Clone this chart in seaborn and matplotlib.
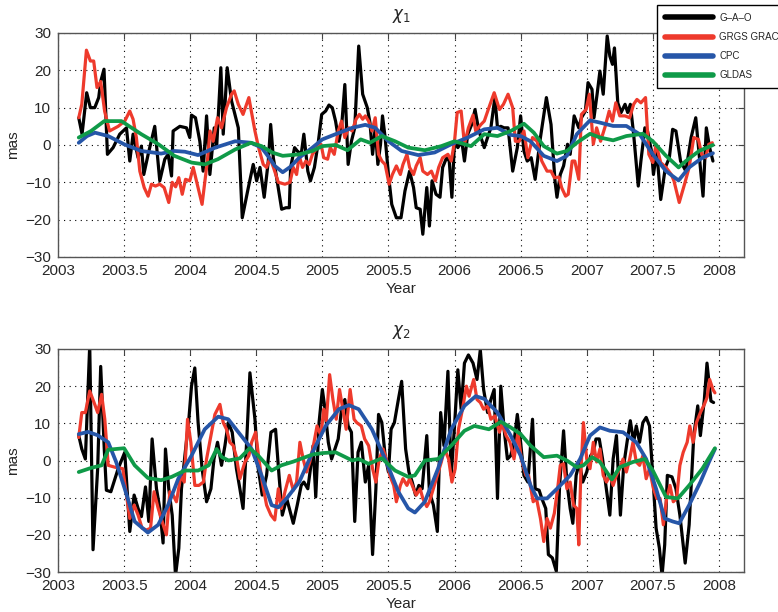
import numpy as np
import pandas as pd
import matplotlib
matplotlib.use("Agg")
import matplotlib.pyplot as plt
import seaborn as sns

# ---------------- chi_1 ----------------
t_gao_1 = [2003.157, 2003.182, 2003.217, 2003.245, 2003.278, 2003.308, 2003.323, 2003.348, 2003.374, 2003.417,
           2003.467, 2003.518, 2003.543, 2003.568, 2003.606, 2003.631, 2003.649, 2003.682, 2003.732, 2003.77,
           2003.808, 2003.833, 2003.859, 2003.871, 2003.922, 2003.972, 2003.997, 2004.01, 2004.04, 2004.073,
           2004.098, 2004.124, 2004.149, 2004.182, 2004.2, 2004.232, 2004.25, 2004.28, 2004.313, 2004.333,
           2004.364, 2004.394, 2004.44, 2004.477, 2004.503, 2004.528, 2004.56, 2004.591, 2004.609, 2004.629,
           2004.654, 2004.692, 2004.725, 2004.75, 2004.76, 2004.79, 2004.81, 2004.84, 2004.86, 2004.89,
           2004.91, 2004.94, 2004.97, 2004.995, 2005.025, 2005.05, 2005.075, 2005.1, 2005.125, 2005.145,
           2005.17, 2005.195, 2005.22, 2005.245, 2005.275, 2005.305, 2005.34, 2005.36, 2005.38, 2005.4,
           2005.42, 2005.44, 2005.455, 2005.475, 2005.5, 2005.525, 2005.56, 2005.595, 2005.625, 2005.66,
           2005.69, 2005.71, 2005.74, 2005.76, 2005.79, 2005.81, 2005.83, 2005.86, 2005.89, 2005.91,
           2005.94, 2005.96, 2005.98, 2006.0, 2006.025, 2006.055, 2006.075, 2006.1, 2006.13, 2006.155,
           2006.18, 2006.2, 2006.225, 2006.25, 2006.275, 2006.305, 2006.325, 2006.35, 2006.375, 2006.405,
           2006.44, 2006.475, 2006.5, 2006.525, 2006.55, 2006.58, 2006.61, 2006.65, 2006.695, 2006.73,
           2006.76, 2006.775, 2006.8, 2006.825, 2006.855, 2006.875, 2006.905, 2006.94, 2006.96, 2006.99,
           2007.01, 2007.04, 2007.055, 2007.08, 2007.1, 2007.125, 2007.155, 2007.175, 2007.195, 2007.21,
           2007.235, 2007.26, 2007.29, 2007.31, 2007.33, 2007.355, 2007.39, 2007.41, 2007.44, 2007.46,
           2007.49, 2007.505, 2007.53, 2007.56, 2007.595, 2007.625, 2007.65, 2007.675, 2007.71, 2007.75,
           2007.79, 2007.825, 2007.855, 2007.88, 2007.905, 2007.93, 2007.955]
gao_1 = [7.3, 2.9, 14, 10, 10, 12.7, 17, 20.3, -2.5, -0.7,
         2.9, 4.6, -4.3, 2.9, -3.4, -0.3, -7.9, -2.5, 5, -9.6,
         -3.8, -2.5, -8.3, 3.75, 5, 4.6, 2, 8, 7.3, 1,
         -7, 7.8, -7.9, 4.6, -0.7, 20.7, 2.9, 20.7, 11.8, 9,
         4.6, -19.5, -11.4, -5.2, -9.6, -6, -14, -4.3, 5.5, -3.4,
         -8.75, -17.2, -16.8, -16.8, -6, -0.7, -1.6, -2.5, 2.9, -7,
         -9.6, -6, 1, 8.2, 9.1, 10.7, 10, 6.4, 1, 4.6,
         16.2, -5.2, 1, 4.6, 26.5, 13.6, 10, 6, -2.5, 4.6,
         -5.2, 0.2, 7.8, 2, -7.9, -15.9, -19.5, -19.5, -12.3, -7,
         -11.4, -16.8, -17.2, -23.9, -11.4, -21.7, -9.6, -13.2, -14, -6,
         -3.4, -4.3, -14, 1, -0.7, 1, -4.3, 2.9, 5.5, 9.5,
         4.6, 2, -0.7, 2, 4.6, 12.7, 4.6, 5, 4.6, 4.6,
         -7, -0.7, 7.8, -1.6, -4.3, -3.4, -9.2, 2, 12.7, 5.5,
         -9.6, -14, -7.9, -5.6, 0.2, -2.5, 7.8, 4.6, 7.3, 9.1,
         16.7, 14.9, 7.3, 14, 19.8, 13.6, 29.2, 23.8, 21.6, 26,
         11.3, 8.7, 10.9, 8.7, 10.9, 2.9, -11, -4.3, 4.6, 3.75,
         -1.6, -7.9, -1.6, -14.6, -6, -3.4, 4.2, 3.75, -4.3, -7,
         2, 7.3, -4.3, -13.7, 4.6, -0.7, -4.3]

t_grgs_1 = [2003.157, 2003.18, 2003.215, 2003.245, 2003.27, 2003.295, 2003.323, 2003.353, 2003.39, 2003.455,
            2003.505, 2003.543, 2003.568, 2003.593, 2003.619, 2003.652, 2003.682, 2003.707, 2003.737, 2003.77,
            2003.803, 2003.838, 2003.864, 2003.89, 2003.914, 2003.94, 2003.965, 2003.997, 2004.023, 2004.06,
            2004.09, 2004.13, 2004.15, 2004.174, 2004.207, 2004.237, 2004.275, 2004.313, 2004.333, 2004.364,
            2004.4, 2004.444, 2004.49, 2004.515, 2004.553, 2004.578, 2004.604, 2004.63, 2004.667, 2004.717,
            2004.755, 2004.78, 2004.805, 2004.825, 2004.85, 2004.875, 2004.9, 2004.925, 2004.96, 2004.99,
            2005.01, 2005.04, 2005.06, 2005.09, 2005.12, 2005.145, 2005.17, 2005.2, 2005.225, 2005.255,
            2005.28, 2005.305, 2005.325, 2005.35, 2005.375, 2005.4, 2005.425, 2005.45, 2005.475, 2005.505,
            2005.53, 2005.56, 2005.59, 2005.61, 2005.64, 2005.66, 2005.69, 2005.71, 2005.74, 2005.76,
            2005.795, 2005.825, 2005.855, 2005.88, 2005.91, 2005.95, 2005.975, 2006.0, 2006.02, 2006.05,
            2006.075, 2006.105, 2006.14, 2006.16, 2006.2, 2006.225, 2006.26, 2006.3, 2006.34, 2006.37,
            2006.405, 2006.44, 2006.46, 2006.49, 2006.525, 2006.555, 2006.59, 2006.625, 2006.66, 2006.7,
            2006.73, 2006.755, 2006.79, 2006.81, 2006.84, 2006.86, 2006.89, 2006.91, 2006.94, 2006.96,
            2006.995, 2007.02, 2007.05, 2007.075, 2007.105, 2007.14, 2007.17, 2007.195, 2007.22, 2007.25,
            2007.29, 2007.325, 2007.355, 2007.38, 2007.41, 2007.445, 2007.47, 2007.5, 2007.525, 2007.56,
            2007.6, 2007.64, 2007.66, 2007.7, 2007.74, 2007.775, 2007.81, 2007.845, 2007.87, 2007.9,
            2007.925, 2007.95]
grgs_1 = [7.3, 10.9, 25.4, 22.5, 22.5, 15.4, 17, 9, 3.75, 5,
          6.4, 9.1, 6.9, 2, -7, -11.4, -13.7, -10.5, -11, -10.5,
          -11.4, -15.4, -10, -11.2, -8.75, -13.2, -9.2, -9.6, -6, -11.4,
          -15.9, -4.3, 3.75, 1, 7.3, 4.6, 10, 13.6, 14.5, 10.9,
          8.2, 12.7, 3.75, -0.3, -5.2, -6, -3.4, -6, -10, -10.5,
          -10, -6, -7.9, -2.9, -6, -4.3, -5.2, -2.5, -0.7, 0.2,
          -3.4, -3.8, -0.7, -2.5, 3.75, 6.4, 2, 4.6, 3.75, 6.9,
          8.2, 6.9, 7.8, 6.4, 3.75, 7.3, -2.5, -4.3, -5.2, -10.5,
          -7.9, -5.6, -7.9, -5.2, -2.5, -6, -7.9, -5.6, -3.4, -7,
          -7.9, -7, -9.6, -6, -3.4, -2.5, -4.3, 1, 8.7, 9.1,
          0.2, 4.6, 8, 3.75, 5.5, 6.4, 10, 14, 9.5, 10.9,
          13.6, 10, 1, 1, 3.75, -3.4, 2, 1, -4.3, -7,
          -7, -8.75, -8.6, -11.4, -13.7, -13.2, -4.3, -4.3, -9.2, 8.2,
          9.5, 13.6, 0.2, 4.6, 1, 5, 9.1, 6.4, 11.3, 7.8,
          7.8, 7.3, 10.9, 12.2, 11.3, 12.7, -2.5, -4.7, 0.2, -4.7,
          -6, -7.9, -9.6, -15.4, -10.5, -6, 2, 1.5, -2.5, -3.4,
          0.2, 0.6]

t_cpc_1 = [2003.157, 2003.22, 2003.28, 2003.38, 2003.5, 2003.63, 2003.78, 2003.88, 2003.96, 2004.06,
           2004.19, 2004.34, 2004.46, 2004.54, 2004.6, 2004.64, 2004.7, 2004.76, 2004.825, 2004.925,
           2005.0, 2005.1, 2005.225, 2005.325, 2005.4, 2005.5, 2005.6, 2005.725, 2005.85, 2005.975,
           2006.1, 2006.225, 2006.325, 2006.425, 2006.5, 2006.575, 2006.675, 2006.775, 2006.85, 2006.925,
           2007.025, 2007.1, 2007.2, 2007.3, 2007.4, 2007.5, 2007.6, 2007.695, 2007.775, 2007.875,
           2007.955]
cpc_1 = [0.6, 2.4, 3.3, 2.4, 0.2, -1.6, -2.3, -1.6, -1.8, -2.7,
         -0.7, 1, 0.6, -0.7, -3.5, -5.6, -7.3, -5.8, -3.4, -0.7,
         1.5, 2.9, 4.6, 5.4, 4.6, 1, -1.6, -2.7, -2, 0.2,
         2, 4.2, 4.6, 2.7, 2.4, 1, -2.9, -4.3, -2.9, 2.9,
         6.6, 6, 5.1, 5.1, 2.9, -2.5, -7, -9.5, -6, -3.4,
         -2.2]

t_gldas_1 = [2003.157, 2003.25, 2003.35, 2003.48, 2003.54, 2003.63, 2003.76, 2003.88, 2004.01, 2004.11,
             2004.21, 2004.34, 2004.46, 2004.54, 2004.62, 2004.7, 2004.825, 2004.925, 2005.0, 2005.1,
             2005.19, 2005.29, 2005.36, 2005.45, 2005.55, 2005.65, 2005.775, 2005.9, 2006.0, 2006.125,
             2006.225, 2006.325, 2006.425, 2006.525, 2006.6, 2006.675, 2006.775, 2006.85, 2006.925, 2007.025,
             2007.1, 2007.2, 2007.3, 2007.425, 2007.5, 2007.6, 2007.695, 2007.75, 2007.85, 2007.955]
gldas_1 = [2, 3.75, 6.4, 6.4, 5, 2.9, 0.2, -2.9, -4.7, -5.2,
           -3.8, -1.2, 0.6, -0.3, -2, -2.9, -2.5, -1.6, -0.3, 0,
           -1.4, 1.5, 0.6, 2.4, 1, -0.7, -1.4, -0.3, 1, -0.3,
           2.9, 2.4, 3.75, 5.7, 3.3, -0.3, -2.3, -1.6, 0.6, 3,
           2, 1.25, 2.4, 3, 1, -2.9, -6, -4.3, -1.6, 0]

# ---------------- chi_2 ----------------
t_gao_2 = [2003.157, 2003.18, 2003.207, 2003.24, 2003.265, 2003.3, 2003.323, 2003.35, 2003.366, 2003.4,
           2003.455, 2003.505, 2003.543, 2003.576, 2003.606, 2003.631, 2003.662, 2003.687, 2003.712, 2003.745,
           2003.77, 2003.795, 2003.813, 2003.838, 2003.864, 2003.889, 2003.914, 2003.934, 2003.96, 2003.99,
           2004.01, 2004.035, 2004.06, 2004.09, 2004.124, 2004.157, 2004.18, 2004.207, 2004.237, 2004.263,
           2004.288, 2004.318, 2004.35, 2004.376, 2004.4, 2004.427, 2004.452, 2004.49, 2004.515, 2004.545,
           2004.578, 2004.611, 2004.646, 2004.672, 2004.697, 2004.73, 2004.75, 2004.78, 2004.81, 2004.84,
           2004.86, 2004.89, 2004.91, 2004.93, 2004.95, 2004.975, 2005.0, 2005.02, 2005.045, 2005.07,
           2005.095, 2005.12, 2005.145, 2005.17, 2005.195, 2005.22, 2005.245, 2005.27, 2005.295, 2005.325,
           2005.35, 2005.38, 2005.405, 2005.425, 2005.45, 2005.475, 2005.5, 2005.52, 2005.545, 2005.575,
           2005.6, 2005.63, 2005.655, 2005.68, 2005.705, 2005.73, 2005.755, 2005.79, 2005.81, 2005.84,
           2005.87, 2005.895, 2005.92, 2005.95, 2005.975, 2006.0, 2006.025, 2006.05, 2006.075, 2006.105,
           2006.14, 2006.17, 2006.195, 2006.22, 2006.25, 2006.275, 2006.3, 2006.325, 2006.35, 2006.375,
           2006.4, 2006.425, 2006.45, 2006.475, 2006.5, 2006.525, 2006.555, 2006.59, 2006.61, 2006.64,
           2006.66, 2006.69, 2006.71, 2006.74, 2006.77, 2006.795, 2006.825, 2006.85, 2006.875, 2006.895,
           2006.92, 2006.945, 2006.97, 2007.0, 2007.03, 2007.05, 2007.07, 2007.095, 2007.12, 2007.145,
           2007.175, 2007.2, 2007.225, 2007.255, 2007.28, 2007.305, 2007.33, 2007.355, 2007.375, 2007.4,
           2007.425, 2007.45, 2007.475, 2007.5, 2007.525, 2007.55, 2007.57, 2007.59, 2007.61, 2007.645,
           2007.675, 2007.705, 2007.745, 2007.775, 2007.81, 2007.84, 2007.86, 2007.89, 2007.91, 2007.94,
           2007.96]
gao_2 = [6.7, 3.1, 0.4, 31, -24, -2.2, 25.3, 3.1, -8, -8.4,
         -2.2, 2.2, -19.1, -9.3, -12.9, -15.1, -7.1, -16.4, 5.8, -7.6,
         -12.9, -22.2, 3.1, -7.6, -14.7, -31, -23.6, -7.6, 1.3, 11.1,
         20, 24.9, 10.2, -2.2, -11.1, -7.6, 0.4, 4.9, -1.3, 4,
         10.2, 7.6, -2.2, -7.6, -12.9, 4.9, 23.6, 11.1, -2.2, -9.3,
         -4, 7.6, 8.4, -4, -14.7, -10.2, -12.9, -16.9, -12, -6.7,
         -5.8, -7.6, -2.2, 4, -9.8, 10.2, 19.1, 13.8, 4.9, 0.4,
         3.1, 5.8, 13.8, 16.4, 9.3, 7.6, -16.4, 2.2, 4.9, -5.8,
         -1.3, -25.3, -7.6, 12.4, 10.2, 1.3, -3.1, 8.4, 10.2, 16.4,
         21.3, 3.1, -3.1, -5.8, -9.3, -6.7, -7.6, 6.7, -8.4, -12,
         -19.1, 12.9, 4, 24, -4, 9.3, 24.4, 13.8, 26.2, 28.4,
         26.2, 21.8, 29.8, 19.1, 12.9, 16.4, 19.1, -10.2, 20, 8.4,
         0.4, 1.3, 4.9, 12.4, 4.9, -4, -5.8, 11.1, -7.6, -8,
         -10.2, -12.9, -25.3, -26.2, -29.8, -6.7, 8, -5.8, -12.9, -16.9,
         -4, -0.4, -5.8, -3.1, 1.3, 2.2, 5.8, 5.8, 0.4, -6.7,
         -14.7, 0.4, 6.7, -14.7, -1.3, 4.9, 10.7, 4.9, 9.3, 4.9,
         10.2, 11.6, 9.3, -4, -18.2, -23.6, -31, -22.7, -4, -4.4,
         -7.6, -14.7, -27.6, -17.3, 6.7, 14.7, 6.7, 16.4, 26.2, 16,
         15.6]

t_grgs_2 = [2003.157, 2003.18, 2003.207, 2003.24, 2003.278, 2003.3, 2003.33, 2003.354, 2003.38, 2003.43,
            2003.49, 2003.518, 2003.543, 2003.576, 2003.606, 2003.636, 2003.67, 2003.7, 2003.727, 2003.758,
            2003.788, 2003.82, 2003.846, 2003.871, 2003.896, 2003.93, 2003.955, 2003.98, 2004.005, 2004.035,
            2004.066, 2004.1, 2004.124, 2004.157, 2004.187, 2004.225, 2004.25, 2004.275, 2004.3, 2004.326,
            2004.35, 2004.376, 2004.414, 2004.444, 2004.465, 2004.495, 2004.52, 2004.545, 2004.578, 2004.611,
            2004.64, 2004.667, 2004.69, 2004.717, 2004.75, 2004.78, 2004.805, 2004.83, 2004.855, 2004.88,
            2004.905, 2004.93, 2004.96, 2004.99, 2005.01, 2005.03, 2005.055, 2005.08, 2005.105, 2005.13,
            2005.155, 2005.18, 2005.21, 2005.24, 2005.26, 2005.295, 2005.32, 2005.35, 2005.38, 2005.405,
            2005.43, 2005.46, 2005.49, 2005.51, 2005.54, 2005.56, 2005.59, 2005.61, 2005.64, 2005.66,
            2005.69, 2005.71, 2005.74, 2005.76, 2005.79, 2005.81, 2005.84, 2005.87, 2005.9, 2005.925,
            2005.955, 2005.98, 2006.005, 2006.03, 2006.06, 2006.09, 2006.11, 2006.145, 2006.17, 2006.195,
            2006.22, 2006.25, 2006.275, 2006.305, 2006.34, 2006.36, 2006.39, 2006.42, 2006.45, 2006.48,
            2006.505, 2006.54, 2006.56, 2006.595, 2006.62, 2006.65, 2006.675, 2006.7, 2006.725, 2006.755,
            2006.78, 2006.8, 2006.825, 2006.85, 2006.875, 2006.9, 2006.925, 2006.94, 2006.955, 2006.975,
            2007.0, 2007.025, 2007.05, 2007.075, 2007.1, 2007.125, 2007.15, 2007.175, 2007.2, 2007.225,
            2007.25, 2007.275, 2007.3, 2007.325, 2007.35, 2007.375, 2007.4, 2007.425, 2007.45, 2007.475,
            2007.505, 2007.53, 2007.555, 2007.58, 2007.605, 2007.63, 2007.655, 2007.68, 2007.705, 2007.73,
            2007.76, 2007.78, 2007.805, 2007.83, 2007.86, 2007.89, 2007.91, 2007.93, 2007.955, 2007.97]
grgs_2 = [6.2, 12.9, 12.9, 18.7, 15.1, 12.9, 17.8, 11.1, -1.3, -1.8,
          -2.2, -9.3, -15.6, -12, -14.7, -18.2, -18.7, -18.2, -8.4, -12.9,
          -16.4, -20, -8.4, -9.3, -11.1, -4, -5.8, 11.1, 4.9, -6.7,
          -6.7, -5.8, 0.4, 6.7, 12.4, 15.1, 10.2, 8.4, 4.9, 4,
          0.9, -4.9, -0.4, 1.3, 4.9, 7.6, 0.4, -5.8, -12, -14.7,
          -16, -7.6, -12.9, -8.4, -4, -8, -5.8, 4.9, 0.4, -3.1,
          -0.4, 3.6, 9.3, 6.7, 13.8, 10.7, 23.1, 16.4, 11.1, 19.1,
          13.8, 8.4, 19.1, 11.1, 10.2, 9.3, 5.8, 4, -2.2, -5.8,
          0.4, 3.1, -0.4, -4, -6.7, -11.1, -6.7, -4.9, -6.7, -4.9,
          -7.6, -9.3, -7.6, -10.2, -12.4, -11.1, -7.6, -4, -0.4, 3.1,
          0.4, -5.8, -2.2, 8.4, 13.8, 20, 17.3, 21.8, 16.4, 15.6,
          13.8, 14.7, 11.1, 12, 7.6, 10.2, 6.7, 4.9, 0.4, 7.6,
          0.4, -4, -4, -11.1, -10.2, -15.6, -21.8, -15.6, -18.2, -14.2,
          -7.6, -1.3, -0.9, -7.6, -5.8, -12, -12.9, -22.7, -4, 10.2,
          0.4, -2.2, 4.9, -0.4, 3.1, -4, -5.8, -4, -6.7, -4,
          -2.2, 0.4, -3.1, 0.4, 4.9, -0.4, -1.3, 1.3, -4.9, -2.2,
          -7.6, -10.2, -10.2, -17.3, -10.2, -6.7, -11.1, -10.2, -1.3, 2.2,
          4.9, 9.3, 4.9, 10.2, 12.9, 15.1, 16.9, 21.8, 19.1, 18.2]

t_cpc_2 = [2003.157, 2003.227, 2003.3, 2003.38, 2003.44, 2003.505, 2003.58, 2003.68, 2003.758, 2003.833,
           2003.91, 2004.01, 2004.11, 2004.212, 2004.288, 2004.376, 2004.465, 2004.54, 2004.616, 2004.667,
           2004.73, 2004.825, 2004.925, 2005.025, 2005.125, 2005.2, 2005.275, 2005.375, 2005.475, 2005.575,
           2005.65, 2005.7, 2005.775, 2005.875, 2005.975, 2006.075, 2006.16, 2006.225, 2006.325, 2006.425,
           2006.5, 2006.575, 2006.625, 2006.7, 2006.775, 2006.875, 2006.95, 2007.025, 2007.1, 2007.175,
           2007.275, 2007.375, 2007.45, 2007.525, 2007.59, 2007.65, 2007.7, 2007.775, 2007.86, 2007.925,
           2007.97]
cpc_2 = [7.1, 7.7, 6.8, 4.9, -0.4, -7.6, -16.4, -19.4, -17.3, -12,
         -4.9, 1.3, 8.4, 11.8, 11.1, 7.1, 3.1, -4, -12, -12.6,
         -10.2, -5.8, 2.2, 9.3, 13.8, 14.9, 13.8, 8.4, 0.4, -8.4,
         -12.9, -14, -11.1, -2.2, 8.4, 14.7, 17.3, 16.6, 12.9, 6.7,
         1.3, -6.7, -10.2, -10.2, -7.6, -4, 0.4, 6.7, 8.9, 8,
         7.6, 4.9, 0.4, -7.6, -15.6, -16.4, -16.9, -12, -5.8, -0.4,
         3.1]

t_gldas_2 = [2003.157, 2003.25, 2003.33, 2003.38, 2003.5, 2003.58, 2003.68, 2003.78, 2003.86, 2003.96,
             2004.06, 2004.14, 2004.2, 2004.24, 2004.29, 2004.376, 2004.45, 2004.515, 2004.616, 2004.69,
             2004.78, 2004.925, 2005.0, 2005.1, 2005.175, 2005.225, 2005.275, 2005.35, 2005.45, 2005.55,
             2005.65, 2005.7, 2005.775, 2005.875, 2005.975, 2006.075, 2006.15, 2006.26, 2006.35, 2006.425,
             2006.5, 2006.575, 2006.675, 2006.775, 2006.85, 2006.925, 2006.975, 2007.04, 2007.1, 2007.19,
             2007.25, 2007.35, 2007.44, 2007.5, 2007.6, 2007.69, 2007.775, 2007.875, 2007.97]
gldas_2 = [-3.1, -2, -1.3, 2.9, 3.3, -1.3, -4.7, -5.3, -4.4, -2.7,
           -2.7, -1.3, 3.1, 0.9, 0, 0.6, 3.3, 1.3, -2.7, -1.3,
           -0.3, 1.6, 2, 2.2, 0.9, 0, 0.4, -0.9, 0.6, -2.7,
           -4.4, -4, 0, 0.4, 4, 8, 9.3, 8.4, 10.4, 8.9,
           7.1, 4, 0.9, 1.3, 0, -1.8, -1.3, 0.9, -0.4, -5.1,
           -1.8, -0.4, 0.4, -2.7, -9.8, -10.2, -6.7, -2.2, 3.3]

series_names = ["G\u2013A\u2013O", "GRGS GRACE", "CPC", "GLDAS"]
series_colors = ["#000000", "#ee3a2c", "#2656a8", "#0f9a48"]
series_widths = [2.3, 2.3, 2.7, 2.7]

year_ticks = [2003, 2003.5, 2004, 2004.5, 2005, 2005.5, 2006, 2006.5, 2007, 2007.5, 2008]
mas_ticks = [-30, -20, -10, 0, 10, 20, 30]

panels = [
    (r"$\chi_1$", [(t_gao_1, gao_1), (t_grgs_1, grgs_1), (t_cpc_1, cpc_1), (t_gldas_1, gldas_1)]),
    (r"$\chi_2$", [(t_gao_2, gao_2), (t_grgs_2, grgs_2), (t_cpc_2, cpc_2), (t_gldas_2, gldas_2)]),
]

sns.set_style("white")
plt.rcParams["font.family"] = ["Liberation Sans", "DejaVu Sans"]
plt.rcParams["mathtext.fontset"] = "dejavusans"

fig = plt.figure(figsize=(7.78, 6.12), dpi=100)
W, H = 778, 612
ax_boxes = [(58, 33, 744, 257), (58, 349, 744, 572)]
text_col = "#262626"

handles, labels = None, None
for (title, data), (x0, y0, x1, y1) in zip(panels, ax_boxes):
    ax = fig.add_axes([x0 / W, 1 - y1 / H, (x1 - x0) / W, (y1 - y0) / H])
    for (t, v), name, col, lw in zip(data, series_names, series_colors, series_widths):
        df = pd.DataFrame({"Year": t, "mas": v})
        sns.lineplot(data=df, x="Year", y="mas", ax=ax, color=col, lw=lw,
                     estimator=None, sort=False, label=name, legend=False)
    ax.set_xlim(2003, 2008.19)
    ax.set_ylim(-30, 30)
    ax.set_xticks(year_ticks)
    ax.set_xticklabels([f"{y:g}" for y in year_ticks])
    ax.set_yticks(mas_ticks)
    ax.grid(True, color="black", linestyle=(0, (1, 4)), linewidth=0.8)
    ax.tick_params(direction="in", length=4, width=0.8, top=True, right=True,
                   labelsize=11, colors="#444444", labelcolor=text_col, pad=5)
    for sp in ax.spines.values():
        sp.set_color("#555555")
        sp.set_linewidth(1.0)
    ax.set_xlabel("Year", fontsize=11, color=text_col)
    ax.set_ylabel("mas", fontsize=11, color=text_col)
    ax.xaxis.set_label_coords(0.5, -0.112)
    ax.yaxis.set_label_coords(-0.056, 0.5)
    ax.set_title(title, fontsize=12, color=text_col, pad=10)
    if handles is None:
        handles, labels = ax.get_legend_handles_labels()

leg = fig.legend(handles, labels, loc="upper left",
                 bbox_to_anchor=(657 / W, 1 - 5 / H), bbox_transform=fig.transFigure,
                 fontsize=7, frameon=True, fancybox=False, edgecolor="black",
                 framealpha=1, handlelength=5.0, handletextpad=0.6,
                 labelspacing=0.95, borderpad=0.8, borderaxespad=0)
leg.get_frame().set_linewidth(1.0)
for ln in leg.get_lines():
    ln.set_linewidth(4)

fig.savefig("out.png", dpi=100)
